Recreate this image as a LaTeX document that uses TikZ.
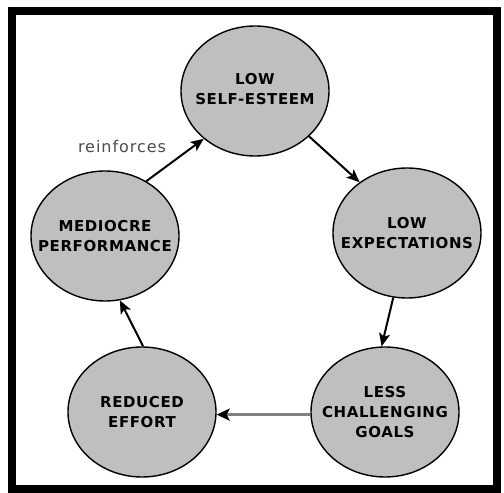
\documentclass[tikz,border=0pt]{standalone}
\usepackage{fontspec}
\newfontfamily\cyclefont[LetterSpace=4]{DejaVu Sans}
\newfontfamily\notefont[LetterSpace=6]{DejaVu Sans}
\usepackage{tikz}
\usetikzlibrary{arrows.meta, shapes, positioning}
\tikzset{
    ellipsenode/.style = {draw, ellipse, fill=black!25, line width=1.4pt, inner sep = 0em,
      node distance=0em, minimum width=148pt, minimum height=130pt},
    textnode/.style  = {draw=none, fill=none, rectangle, inner sep = 0em,
      font=\cyclefont\bfseries\fontsize{15}{20}\selectfont},
    notenode/.style  = {draw=none, fill=none, rectangle, inner sep = 0em, text=black!70,
      font=\notefont\fontsize{16}{18}\selectfont},
    connect/.style = {black, line width=2pt, -{Stealth[length=13pt, width=11pt, inset=3pt]}},
    framebox/.style = {draw, line width=8pt},
    every text node part/.style={align=center}
}

\begin{document}
\begin{tikzpicture}
    \useasboundingbox (0pt,0pt) rectangle (504pt,493pt);
    \draw [framebox] (11.5pt,3.5pt) rectangle (496.5pt,482pt);

    \node [name=esteem, ellipsenode] at (255pt,402pt) {};
    \node [name=expect, ellipsenode, right of = esteem, xshift=152pt, yshift=-142pt] {};
    \node [name=goals, ellipsenode, right of = esteem, xshift=130pt, yshift=-321pt] {};
    \node [name=effort, ellipsenode, right of = esteem, xshift=-113pt, yshift=-321pt] {};
    \node [name=mediocre, ellipsenode, right of = esteem, xshift=-150pt, yshift=-145pt] {};

    \node [name=esteemtext, textnode, yshift=2pt] at (esteem) {LOW\\SELF-ESTEEM};
    \node [name=expecttext, textnode] at (expect) {LOW\\EXPECTATIONS};
    \node [name=goalstext, textnode] at (goals) {LESS\\CHALLENGING\\GOALS};
    \node [name=efforttext, textnode] at (effort) {REDUCED\\EFFORT};
    \node [name=mediocretext, textnode] at (mediocre) {MEDIOCRE\\PERFORMANCE};

    \draw [connect] (esteem.-40) -- (expect.133);
    \draw [connect] (expect.-102) -- (goals.93);
    \draw [connect, draw=black!50, line width=3pt,
        -{Stealth[length=13pt, width=12pt, inset=3pt, black]}] (goals.182) -- (effort.-2);
    \draw [connect] (effort.89) -- (mediocre.-77);
    \draw [connect] (mediocre.53) -- (esteem.223);

    \node [name=reinforces, notenode] at (122pt,346pt) {reinforces};
\end{tikzpicture}
\end{document}
